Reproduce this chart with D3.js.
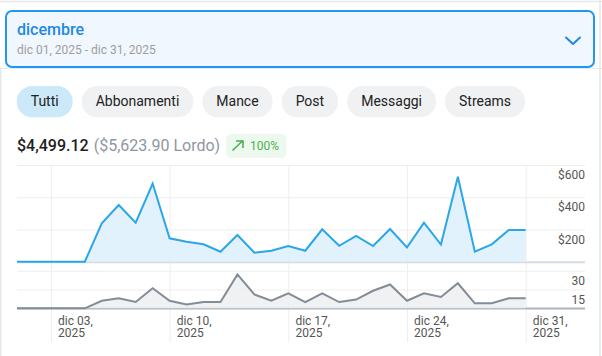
<!DOCTYPE html>
<html>
<head>
<meta charset="utf-8">
<script src="https://cdn.jsdelivr.net/npm/d3@7"></script>
<style>
  html, body { margin: 0; padding: 0; background: #fff; }
  svg { display: block; font-family: Roboto, "Noto Sans", sans-serif; }
</style>
</head>
<body>
<svg id="chart" width="602" height="356"></svg>
<script>
// ---------- data ----------
const periodTitle = "dicembre";
const periodRange = "dic 01, 2025 - dic 31, 2025";
const filterButtons = ["Tutti", "Abbonamenti", "Mance", "Post", "Messaggi", "Streams"];
const netTotal = "$4,499.12";
const grossTotal = "($5,623.90 Lordo)";
const changeLabel = "100%";

const days = d3.range(1, 32).map(d => new Date(2025, 11, d));
const netEarnings = [0, 0, 0, 0, 0, 238, 352, 242, 485, 145, 124, 108, 62, 166, 56, 68,
  97, 68, 201, 99, 160, 97, 203, 89, 242, 106, 527, 62, 108, 197, 197];
const transactions = [0, 0, 0, 0, 0, 6, 8, 5, 16, 6, 3, 5, 5, 27, 11, 6,
  12, 5, 12, 5, 7, 14, 19, 6, 12, 9, 20, 4, 4, 8, 8];

const xTickDates = [3, 10, 17, 24, 31].map(d => new Date(2025, 11, d));
const xTickLabels = [["dic 03,", "2025"], ["dic 10,", "2025"], ["dic 17,", "2025"], ["dic 24,", "2025"], ["dic 31,", "2025"]];
const topTicks = [200, 400, 600];
const topTickLabels = ["$200", "$400", "$600"];
const bottomTicks = [15, 30];
const bottomTickLabels = ["15", "30"];

// ---------- layout ----------
const svg = d3.select("#chart");
const W = 602, H = 356;
const plotL = 17, plotR = 585;

// frame lines
svg.append("line").attr("x1", 0).attr("x2", W).attr("y1", 1.5).attr("y2", 1.5).attr("stroke", "#e6e7e9").attr("stroke-width", 1.5);
svg.append("line").attr("x1", 0).attr("x2", W).attr("y1", 68.5).attr("y2", 68.5).attr("stroke", "#e9eaec").attr("stroke-width", 1);
svg.append("line").attr("x1", 0.75).attr("x2", 0.75).attr("y1", 69).attr("y2", H).attr("stroke", "#e6e7e9").attr("stroke-width", 1.5);
svg.append("line").attr("x1", 600).attr("x2", 600).attr("y1", 0).attr("y2", H).attr("stroke", "#e6e7e9").attr("stroke-width", 1.5);

// period selector box
svg.append("rect").attr("x", 6).attr("y", 11).attr("width", 588).attr("height", 56).attr("rx", 6)
  .attr("fill", "#f1f7fe").attr("stroke", "#2196f3").attr("stroke-width", 2);
svg.append("text").attr("x", 17).attr("y", 34.5).attr("font-size", 16).attr("font-weight", 500)
  .attr("fill", "#1e88e5").text(periodTitle);
svg.append("text").attr("x", 17).attr("y", 53.5).attr("font-size", 12)
  .attr("fill", "#9e9e9e").text(periodRange);
svg.append("path").attr("d", "M566,37.5 L573,44 L580,37.5").attr("fill", "none")
  .attr("stroke", "#1e88e5").attr("stroke-width", 2).attr("stroke-linecap", "round").attr("stroke-linejoin", "round");

// filter buttons (width from text + padding)
const btnG = svg.append("g");
let bx = 16.7;
filterButtons.forEach((b, i) => {
  const g = btnG.append("g");
  const rect = g.append("rect").attr("y", 86).attr("height", 31.3)
    .attr("rx", 15.6).attr("fill", i === 0 ? "#cbe9f9" : "#f0f1f3");
  const t = g.append("text").attr("y", 106).attr("text-anchor", "middle")
    .attr("font-size", 14).attr("fill", "#222").text(b);
  const tw = t.node().getComputedTextLength();
  const w = tw + 28;
  rect.attr("x", bx).attr("width", w);
  t.attr("x", bx + w / 2);
  bx += w + 9;
});

// totals
const totT = svg.append("text").attr("x", 17).attr("y", 150.7).attr("font-size", 16);
totT.append("tspan").attr("font-weight", 500).attr("fill", "#212121").text(netTotal);
totT.append("tspan").attr("fill", "#8f96a0").attr("dx", 5).text(grossTotal);
svg.append("rect").attr("x", 226).attr("y", 134).attr("width", 60.5).attr("height", 24).attr("rx", 5).attr("fill", "#edf9ee");
svg.append("path").attr("d", "M232.5,150.5 L243,140.5 M236,141 L243,141 L243,148")
  .attr("fill", "none").attr("stroke", "#4caf50").attr("stroke-width", 1.6);
svg.append("text").attr("x", 250).attr("y", 150).attr("font-size", 12).attr("fill", "#4caf50").text(changeLabel);

// ---------- scales ----------
const x = d3.scaleTime().domain([days[0], days[days.length - 1]]).range([plotL, 525.7]);
const yTop = d3.scaleLinear().domain([0, 600]).range([261.7, 165]);
const yBot = d3.scaleLinear().domain([0, 30]).range([308.3, 270.7]);

const gridColor = "#eeeeee";

// vertical grid + x labels
const xAxis = d3.axisBottom(x).tickValues(xTickDates).tickSize(177).tickFormat("");
const gx = svg.append("g").attr("transform", "translate(0,165)").call(xAxis);
gx.select(".domain").remove();
gx.selectAll(".tick line").attr("stroke", gridColor);
gx.selectAll(".tick").each(function (d, i) {
  const t = d3.select(this).append("text").attr("fill", "#555").attr("font-size", 12)
    .attr("text-anchor", "start").attr("font-family", "Roboto, sans-serif");
  t.append("tspan").attr("x", 6.6).attr("y", 159.5).text(xTickLabels[i][0]);
  t.append("tspan").attr("x", 6.6).attr("y", 172).text(xTickLabels[i][1]);
});

// top horizontal grid + labels
const yTopAxis = d3.axisRight(yTop).tickValues(topTicks).tickSize(plotR - plotL).tickFormat((d, i) => topTickLabels[i]);
const gyt = svg.append("g").attr("transform", `translate(${plotL},0)`).call(yTopAxis);
gyt.select(".domain").remove();
gyt.selectAll(".tick line").attr("stroke", gridColor);
gyt.selectAll(".tick text").attr("x", plotR - plotL).attr("dy", 0).attr("y", 13.6)
  .attr("text-anchor", "end").attr("fill", "#555").attr("font-size", 12).attr("font-family", "Roboto, sans-serif");

// bottom horizontal grid + labels
const yBotAxis = d3.axisRight(yBot).tickValues(bottomTicks).tickSize(plotR - plotL).tickFormat((d, i) => bottomTickLabels[i]);
const gyb = svg.append("g").attr("transform", `translate(${plotL},0)`).call(yBotAxis);
gyb.select(".domain").remove();
gyb.selectAll(".tick line").attr("stroke", gridColor);
gyb.selectAll(".tick text").attr("x", plotR - plotL).attr("dy", 0).attr("y", 14)
  .attr("text-anchor", "end").attr("fill", "#555").attr("font-size", 12).attr("font-family", "Roboto, sans-serif");

// baselines
svg.append("line").attr("x1", plotL).attr("x2", plotR).attr("y1", yTop(0) + 0.5).attr("y2", yTop(0) + 0.5)
  .attr("stroke", "#d4dce4").attr("stroke-width", 2);
svg.append("line").attr("x1", plotL).attr("x2", plotR).attr("y1", yBot(0) + 0.3).attr("y2", yBot(0) + 0.3)
  .attr("stroke", "#adb6c0").attr("stroke-width", 2);

// top series
const topData = days.map((d, i) => ({ d, v: netEarnings[i] }));
svg.append("path").datum(topData)
  .attr("d", d3.area().x(p => x(p.d)).y0(yTop(0)).y1(p => yTop(p.v)))
  .attr("fill", "#ddf0fb").attr("fill-opacity", 0.85);
svg.append("path").datum(topData)
  .attr("d", d3.line().x(p => x(p.d)).y(p => yTop(p.v)))
  .attr("fill", "none").attr("stroke", "#2aa6e9").attr("stroke-width", 2).attr("stroke-linejoin", "miter");

// bottom series
const botData = days.map((d, i) => ({ d, v: transactions[i] }));
svg.append("path").datum(botData)
  .attr("d", d3.area().x(p => x(p.d)).y0(yBot(0)).y1(p => yBot(p.v)))
  .attr("fill", "#eceef0").attr("fill-opacity", 0.85);
svg.append("path").datum(botData)
  .attr("d", d3.line().x(p => x(p.d)).y(p => yBot(p.v)))
  .attr("fill", "none").attr("stroke", "#838c97").attr("stroke-width", 2);
</script>
</body>
</html>
